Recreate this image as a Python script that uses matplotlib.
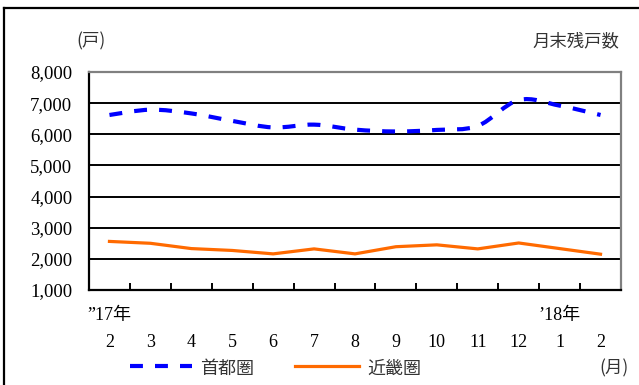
import matplotlib
matplotlib.use("Agg")
import matplotlib.pyplot as plt
from matplotlib.path import Path
from matplotlib.patches import PathPatch
from matplotlib.lines import Line2D
import numpy as np

months = ["2", "3", "4", "5", "6", "7", "8", "9", "10", "11", "12", "1", "2"]
year_labels = {0: "”17年", 11: "’18年"}
shuto = [6620, 6790, 6670, 6430, 6220, 6310, 6150, 6090, 6140, 6270, 7100, 6920, 6620]
kinki = [2560, 2500, 2330, 2270, 2160, 2320, 2160, 2390, 2450, 2320, 2510, 2330, 2150]
yticks = [1000, 2000, 3000, 4000, 5000, 6000, 7000, 8000]

SERIF = ["Liberation Serif", "DejaVu Serif"]
JP = ["Noto Sans CJK JP", "DejaVu Sans"]

W, H = 639, 385
fig = plt.figure(figsize=(W / 100, H / 100), dpi=100)
ax = fig.add_axes([89 / W, (H - 290) / H, 532 / W, 218 / H])

x = np.arange(len(months))


def smooth_path(xs, ys):
    pts = np.column_stack([xs, ys]).astype(float)
    n = len(pts)
    verts = [pts[0]]
    codes = [Path.MOVETO]
    for i in range(n - 1):
        p0 = pts[i - 1] if i > 0 else pts[i]
        p1 = pts[i]
        p2 = pts[i + 1]
        p3 = pts[i + 2] if i + 2 < n else pts[i + 1]
        c1 = p1 + (p2 - p0) / 6.0
        c2 = p2 - (p3 - p1) / 6.0
        verts += [c1, c2, p2]
        codes += [Path.CURVE4] * 3
    return Path(verts, codes)


blue_patch = PathPatch(smooth_path(x, shuto), facecolor="none", edgecolor="#0000FF",
                       linewidth=3.0, linestyle=(0, (3.1, 2.9)), capstyle="butt", zorder=3)
ax.add_patch(blue_patch)
ax.plot(x, kinki, color="#FF6A00", linewidth=2.3, zorder=3, solid_joinstyle="round")

ax.set_xlim(-0.5, len(months) - 0.5)
ax.set_ylim(1000, 8000)

ax.set_yticks(yticks)
ax.set_yticklabels([f"{v:,}" for v in yticks], fontfamily=SERIF, fontsize=13.5)
ax.tick_params(axis="y", length=0, pad=12)
ax.yaxis.grid(True, color="black", linewidth=1.4)
ax.set_axisbelow(True)

ax.set_xticks(x)
ax.set_xticklabels([])
ax.tick_params(axis="x", which="major", length=0)
ax.set_xticks(np.arange(0.5, len(months) - 0.5, 1.0), minor=True)
ax.tick_params(axis="x", which="minor", direction="in", length=5, width=1.4, color="black")

for i, m in enumerate(months):
    ax.annotate(m, xy=(i, 0), xycoords=("data", "axes fraction"),
                xytext=(0, -37.5), textcoords="offset points",
                ha="center", va="center", fontfamily=SERIF, fontsize=13)
for i, lab in year_labels.items():
    ax.annotate(lab, xy=(i, 0), xycoords=("data", "axes fraction"),
                xytext=(0, -18.5), textcoords="offset points",
                ha="center", va="center", fontfamily=SERIF + JP, fontsize=13)

for side in ("left", "bottom"):
    ax.spines[side].set_color("black")
    ax.spines[side].set_linewidth(1.6)
for side in ("top", "right"):
    ax.spines[side].set_color("#808080")
    ax.spines[side].set_linewidth(1.6)

# labels
fig.text(91 / W, 1 - 41 / H, "(戸)", ha="center", va="center", fontfamily=JP, fontsize=12.5, color="#333333")
fig.text(619 / W, 1 - 41 / H, "月末残戸数", ha="right", va="center", fontfamily=JP, fontsize=12.5, color="#333333")
fig.text(614 / W, 1 - 368 / H, "(月)", ha="center", va="center", fontfamily=JP, fontsize=12.5, color="#333333")

# legend
ly = 1 - 366 / H
fig.add_artist(Line2D([130 / W, 192 / W], [ly, ly], color="#0000FF", linewidth=3.0,
                      linestyle=(0, (3.1, 2.9)), solid_capstyle="butt", dash_capstyle="butt"))
fig.text(200 / W, 1 - 369 / H, "首都圏", ha="left", va="center", fontfamily=JP, fontsize=13, color="#333333")
fig.add_artist(Line2D([295 / W, 359 / W], [ly, ly], color="#FF6A00", linewidth=2.3))
fig.text(367 / W, 1 - 369 / H, "近畿圏", ha="left", va="center", fontfamily=JP, fontsize=13, color="#333333")

# outer frame (top and left edges visible)
fig.add_artist(Line2D([4 / W, 1.0], [1 - 8 / H, 1 - 8 / H], color="black", linewidth=1.6))
fig.add_artist(Line2D([4 / W, 4 / W], [0.0, 1 - 8 / H], color="black", linewidth=1.6))

fig.savefig("out.png", dpi=100)
